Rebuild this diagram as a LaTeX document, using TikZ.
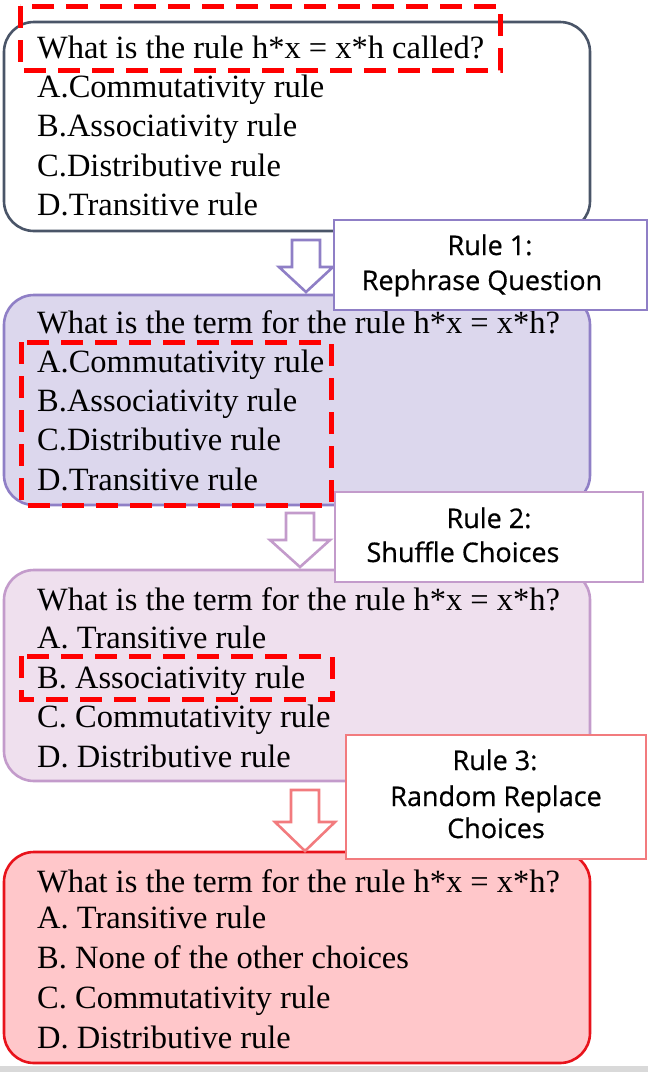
\documentclass[tikz,border=0pt]{standalone}
\usepackage{fontspec}
\setmainfont{Liberation Serif}
\newfontfamily\rulefont[FakeBold=0.6]{Open Sans}
\definecolor{qonel}{HTML}{4A5568}
\definecolor{qtwof}{HTML}{DCD7ED}
\definecolor{qtwol}{HTML}{8F7FC6}
\definecolor{qthreef}{HTML}{EFE0EE}
\definecolor{qthreel}{HTML}{C39BCB}
\definecolor{qfourf}{HTML}{FFC7CA}
\definecolor{qfourl}{HTML}{E8131B}
\definecolor{rthreel}{HTML}{F27B7E}
\definecolor{hilite}{HTML}{FF0000}
\definecolor{pagegray}{HTML}{D9D9D9}
\begin{document}
\begin{tikzpicture}[x=1pt,y=-1pt,
  qbox/.style={rounded corners=30pt, line width=2.6pt},
  rbox/.style={fill=white, line width=2.6pt},
  hbox/.style={draw=hilite, line width=5pt, dash pattern=on 22pt off 12pt},
  barrow/.style={fill=white, line width=2.6pt, line join=miter},
  qtext/.style={inner sep=0pt, anchor=base west, font=\fontsize{32.5}{39}\selectfont},
  rtext/.style={inner sep=0pt, anchor=base, font=\rulefont\fontsize{27}{32}\selectfont}]
\useasboundingbox (0,0) rectangle (648,1072);
\fill[pagegray] (0,1066) rectangle (648,1072);

% question boxes
\draw[qbox, draw=qonel, fill=white] (4,22) rectangle (590,231);
\draw[qbox, draw=qtwol, fill=qtwof] (4,295) rectangle (590,505);
\draw[qbox, draw=qthreel, fill=qthreef] (4,570) rectangle (590,781);
\draw[qbox, draw=qfourl, fill=qfourf] (4,852) rectangle (590,1063);

% box 1 text
\node[qtext] (a0) at (37,58) {What is the rule h*x = x*h called?};
\node[qtext] (a1) at (37,97) {A.Commutativity rule};
\node[qtext] (a2) at (37,136) {B.Associativity rule};
\node[qtext] (a3) at (37,176) {C.Distributive rule};
\node[qtext] (a4) at (37,215) {D.Transitive rule};
% box 2 text
\node[qtext] (b0) at (37,333) {What is the term for the rule h*x = x*h?};
\node[qtext] (b1) at (37,372) {A.Commutativity rule};
\node[qtext] (b2) at (37,411) {B.Associativity rule};
\node[qtext] (b3) at (37,450) {C.Distributive rule};
\node[qtext] (b4) at (37,490) {D.Transitive rule};
% box 3 text
\node[qtext] (c0) at (37,610) {What is the term for the rule h*x = x*h?};
\node[qtext] (c1) at (37,648) {A. Transitive rule};
\node[qtext] (c2) at (37,688) {B. Associativity rule};
\node[qtext] (c3) at (37,727) {C. Commutativity rule};
\node[qtext] (c4) at (37,767) {D. Distributive rule};
% box 4 text
\node[qtext] (d0) at (37,892) {What is the term for the rule h*x = x*h?};
\node[qtext] (d1) at (37,928) {A. Transitive rule};
\node[qtext] (d2) at (37,968) {B. None of the other choices};
\node[qtext] (d3) at (37,1008) {C. Commutativity rule};
\node[qtext] (d4) at (37,1048) {D. Distributive rule};

% highlight boxes
\draw[hbox] (20,6) rectangle (500,70);
\draw[hbox] (21,342) rectangle (331,505);
\draw[hbox] (21,656) rectangle (332,699);

% block arrows
\draw[barrow, draw=qtwol] (292,240) -- (320,240) -- (320,267) -- (333,267) -- (306,292) -- (279,267) -- (292,267) -- cycle;
\draw[barrow, draw=qthreel] (286,513) -- (314,513) -- (314,540) -- (330,540) -- (300,567) -- (270,540) -- (286,540) -- cycle;
\draw[barrow, draw=rthreel] (291,790) -- (319,790) -- (319,822) -- (335,822) -- (305,851) -- (275,822) -- (291,822) -- cycle;

% rule boxes
\draw[rbox, draw=qtwol] (334,220) rectangle (647,310);
\node[rtext] (r1a) at (490,255) {Rule 1:};
\node[rtext] (r1b) at (482,290) {Rephrase Question};
\draw[rbox, draw=qthreel] (335,492) rectangle (643,582);
\node[rtext] (r2a) at (489,528) {Rule 2:};
\node[rtext] (r2b) at (463,562) {Shuffle Choices};
\draw[rbox, draw=rthreel] (346,735) rectangle (646,859);
\node[rtext] (r3a) at (495,770) {Rule 3:};
\node[rtext] (r3b) at (496,806) {Random Replace};
\node[rtext] (r3c) at (496,838) {Choices};
\end{tikzpicture}
\end{document}
